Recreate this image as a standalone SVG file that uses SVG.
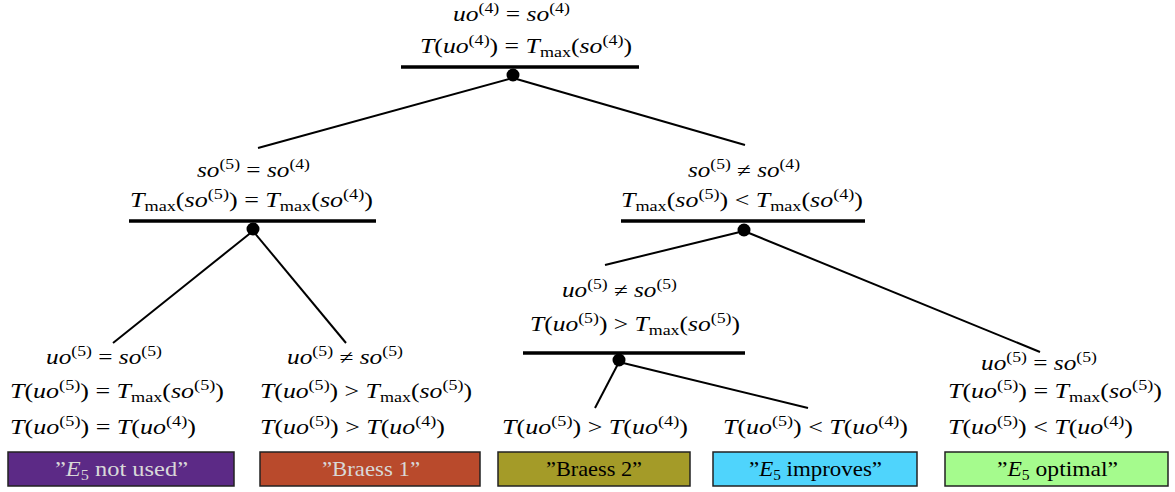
<svg xmlns="http://www.w3.org/2000/svg" width="1175" height="492" viewBox="0 0 1175 492">
<style>
text { font-family: "Liberation Serif", "DejaVu Serif", serif; font-size: 20px; fill: #000; }
.i { font-style: italic; }
.sup { font-size: 14px; }
.sub { font-size: 14px; }
.lbl { font-size: 21px; }
.bar { stroke: #000; stroke-width: 3.5; }
.edge { stroke: #000; stroke-width: 2; fill: none; }
.box { stroke: #222; stroke-width: 1.5; }
.lt { fill: #d8d8d8; }
</style>
<rect width="1175" height="492" fill="#fff"/>

<g id="connectors">
  <line class="edge" x1="513" y1="78" x2="258" y2="148"/>
  <line class="edge" x1="513" y1="78" x2="745" y2="145"/>
  <line class="edge" x1="253" y1="231" x2="113" y2="343"/>
  <line class="edge" x1="253" y1="231" x2="346" y2="343"/>
  <line class="edge" x1="744" y1="231" x2="605" y2="265"/>
  <line class="edge" x1="744" y1="231" x2="1040" y2="352"/>
  <line class="edge" x1="619" y1="362" x2="595" y2="408"/>
  <line class="edge" x1="619" y1="362" x2="808" y2="408"/>
</g>

<g id="root">
  <text x="453" y="21" textLength="117" lengthAdjust="spacingAndGlyphs"><tspan class="i">uo</tspan><tspan class="sup" dy="-8">(4)</tspan><tspan dy="8"> = </tspan><tspan class="i">so</tspan><tspan class="sup" dy="-8">(4)</tspan></text>
  <text x="420" y="53" textLength="212" lengthAdjust="spacingAndGlyphs"><tspan class="i">T</tspan>(<tspan class="i">uo</tspan><tspan class="sup" dy="-8">(4)</tspan><tspan dy="8">) = </tspan><tspan class="i">T</tspan><tspan class="sub" dy="4">max</tspan><tspan dy="-4">(</tspan><tspan class="i">so</tspan><tspan class="sup" dy="-8">(4)</tspan><tspan dy="8">)</tspan></text>
  <line class="bar" x1="401" y1="67" x2="639" y2="67"/>
  <circle cx="513" cy="75" r="6.5"/>
</g>

<g id="n-same">
  <text x="197" y="177" textLength="113" lengthAdjust="spacingAndGlyphs"><tspan class="i">so</tspan><tspan class="sup" dy="-8">(5)</tspan><tspan dy="8"> = </tspan><tspan class="i">so</tspan><tspan class="sup" dy="-8">(4)</tspan></text>
  <text x="130" y="207" textLength="243" lengthAdjust="spacingAndGlyphs"><tspan class="i">T</tspan><tspan class="sub" dy="4">max</tspan><tspan dy="-4">(</tspan><tspan class="i">so</tspan><tspan class="sup" dy="-8">(5)</tspan><tspan dy="8">) = </tspan><tspan class="i">T</tspan><tspan class="sub" dy="4">max</tspan><tspan dy="-4">(</tspan><tspan class="i">so</tspan><tspan class="sup" dy="-8">(4)</tspan><tspan dy="8">)</tspan></text>
  <line class="bar" x1="129" y1="221" x2="376" y2="221"/>
  <circle cx="253" cy="229" r="6.5"/>
</g>

<g id="n-diff">
  <text x="688" y="177" textLength="112" lengthAdjust="spacingAndGlyphs"><tspan class="i">so</tspan><tspan class="sup" dy="-8">(5)</tspan><tspan dy="8"> ≠ </tspan><tspan class="i">so</tspan><tspan class="sup" dy="-8">(4)</tspan></text>
  <text x="621" y="207" textLength="242" lengthAdjust="spacingAndGlyphs"><tspan class="i">T</tspan><tspan class="sub" dy="4">max</tspan><tspan dy="-4">(</tspan><tspan class="i">so</tspan><tspan class="sup" dy="-8">(5)</tspan><tspan dy="8">) &lt; </tspan><tspan class="i">T</tspan><tspan class="sub" dy="4">max</tspan><tspan dy="-4">(</tspan><tspan class="i">so</tspan><tspan class="sup" dy="-8">(4)</tspan><tspan dy="8">)</tspan></text>
  <line class="bar" x1="621" y1="221" x2="865" y2="221"/>
  <circle cx="744" cy="230" r="6.5"/>
</g>

<g id="n-mid">
  <text x="562" y="297" textLength="115" lengthAdjust="spacingAndGlyphs"><tspan class="i">uo</tspan><tspan class="sup" dy="-8">(5)</tspan><tspan dy="8"> ≠ </tspan><tspan class="i">so</tspan><tspan class="sup" dy="-8">(5)</tspan></text>
  <text x="530" y="331" textLength="210" lengthAdjust="spacingAndGlyphs"><tspan class="i">T</tspan>(<tspan class="i">uo</tspan><tspan class="sup" dy="-8">(5)</tspan><tspan dy="8">) &gt; </tspan><tspan class="i">T</tspan><tspan class="sub" dy="4">max</tspan><tspan dy="-4">(</tspan><tspan class="i">so</tspan><tspan class="sup" dy="-8">(5)</tspan><tspan dy="8">)</tspan></text>
  <line class="bar" x1="523" y1="353" x2="745" y2="353"/>
  <circle cx="619" cy="360" r="6.5"/>
</g>

<g id="leaf1">
  <text x="46" y="364" textLength="116" lengthAdjust="spacingAndGlyphs"><tspan class="i">uo</tspan><tspan class="sup" dy="-8">(5)</tspan><tspan dy="8"> = </tspan><tspan class="i">so</tspan><tspan class="sup" dy="-8">(5)</tspan></text>
  <text x="10" y="398" textLength="214" lengthAdjust="spacingAndGlyphs"><tspan class="i">T</tspan>(<tspan class="i">uo</tspan><tspan class="sup" dy="-8">(5)</tspan><tspan dy="8">) = </tspan><tspan class="i">T</tspan><tspan class="sub" dy="4">max</tspan><tspan dy="-4">(</tspan><tspan class="i">so</tspan><tspan class="sup" dy="-8">(5)</tspan><tspan dy="8">)</tspan></text>
  <text x="10" y="434" textLength="186" lengthAdjust="spacingAndGlyphs"><tspan class="i">T</tspan>(<tspan class="i">uo</tspan><tspan class="sup" dy="-8">(5)</tspan><tspan dy="8">) = </tspan><tspan class="i">T</tspan>(<tspan class="i">uo</tspan><tspan class="sup" dy="-8">(4)</tspan><tspan dy="8">)</tspan></text>
  <rect class="box" x="8" y="452" width="226" height="34" fill="#5c2a86"/>
  <text class="lt lbl" x="55" y="476" textLength="133" lengthAdjust="spacingAndGlyphs">”<tspan class="i">E</tspan><tspan class="sub" dy="4">5</tspan><tspan dy="-4"> not used”</tspan></text>
</g>

<g id="leaf2">
  <text x="287" y="364" textLength="116" lengthAdjust="spacingAndGlyphs"><tspan class="i">uo</tspan><tspan class="sup" dy="-8">(5)</tspan><tspan dy="8"> ≠ </tspan><tspan class="i">so</tspan><tspan class="sup" dy="-8">(5)</tspan></text>
  <text x="260" y="398" textLength="212" lengthAdjust="spacingAndGlyphs"><tspan class="i">T</tspan>(<tspan class="i">uo</tspan><tspan class="sup" dy="-8">(5)</tspan><tspan dy="8">) &gt; </tspan><tspan class="i">T</tspan><tspan class="sub" dy="4">max</tspan><tspan dy="-4">(</tspan><tspan class="i">so</tspan><tspan class="sup" dy="-8">(5)</tspan><tspan dy="8">)</tspan></text>
  <text x="260" y="434" textLength="185" lengthAdjust="spacingAndGlyphs"><tspan class="i">T</tspan>(<tspan class="i">uo</tspan><tspan class="sup" dy="-8">(5)</tspan><tspan dy="8">) &gt; </tspan><tspan class="i">T</tspan>(<tspan class="i">uo</tspan><tspan class="sup" dy="-8">(4)</tspan><tspan dy="8">)</tspan></text>
  <rect class="box" x="260" y="452" width="220" height="34" fill="#b94a2c"/>
  <text class="lt lbl" x="322" y="476" textLength="98" lengthAdjust="spacingAndGlyphs">”Braess 1”</text>
</g>

<g id="leaf3">
  <text x="502" y="434" textLength="186" lengthAdjust="spacingAndGlyphs"><tspan class="i">T</tspan>(<tspan class="i">uo</tspan><tspan class="sup" dy="-8">(5)</tspan><tspan dy="8">) &gt; </tspan><tspan class="i">T</tspan>(<tspan class="i">uo</tspan><tspan class="sup" dy="-8">(4)</tspan><tspan dy="8">)</tspan></text>
  <rect class="box" x="498" y="452" width="192" height="34" fill="#a49b28"/>
  <text class="lbl" x="546" y="476" textLength="96" lengthAdjust="spacingAndGlyphs">”Braess 2”</text>
</g>

<g id="leaf4">
  <text x="723" y="434" textLength="185" lengthAdjust="spacingAndGlyphs"><tspan class="i">T</tspan>(<tspan class="i">uo</tspan><tspan class="sup" dy="-8">(5)</tspan><tspan dy="8">) &lt; </tspan><tspan class="i">T</tspan>(<tspan class="i">uo</tspan><tspan class="sup" dy="-8">(4)</tspan><tspan dy="8">)</tspan></text>
  <rect class="box" x="713" y="452" width="204" height="34" fill="#4fd4fc"/>
  <text class="lbl" x="749" y="476" textLength="133" lengthAdjust="spacingAndGlyphs">”<tspan class="i">E</tspan><tspan class="sub" dy="4">5</tspan><tspan dy="-4"> improves”</tspan></text>
</g>

<g id="leaf5">
  <text x="981" y="370" textLength="116" lengthAdjust="spacingAndGlyphs"><tspan class="i">uo</tspan><tspan class="sup" dy="-8">(5)</tspan><tspan dy="8"> = </tspan><tspan class="i">so</tspan><tspan class="sup" dy="-8">(5)</tspan></text>
  <text x="948" y="398" textLength="214" lengthAdjust="spacingAndGlyphs"><tspan class="i">T</tspan>(<tspan class="i">uo</tspan><tspan class="sup" dy="-8">(5)</tspan><tspan dy="8">) = </tspan><tspan class="i">T</tspan><tspan class="sub" dy="4">max</tspan><tspan dy="-4">(</tspan><tspan class="i">so</tspan><tspan class="sup" dy="-8">(5)</tspan><tspan dy="8">)</tspan></text>
  <text x="948" y="434" textLength="185" lengthAdjust="spacingAndGlyphs"><tspan class="i">T</tspan>(<tspan class="i">uo</tspan><tspan class="sup" dy="-8">(5)</tspan><tspan dy="8">) &lt; </tspan><tspan class="i">T</tspan>(<tspan class="i">uo</tspan><tspan class="sup" dy="-8">(4)</tspan><tspan dy="8">)</tspan></text>
  <rect class="box" x="945" y="452" width="223" height="34" fill="#a5fb8d"/>
  <text class="lbl" x="997" y="476" textLength="121" lengthAdjust="spacingAndGlyphs">”<tspan class="i">E</tspan><tspan class="sub" dy="4">5</tspan><tspan dy="-4"> optimal”</tspan></text>
</g>
</svg>
